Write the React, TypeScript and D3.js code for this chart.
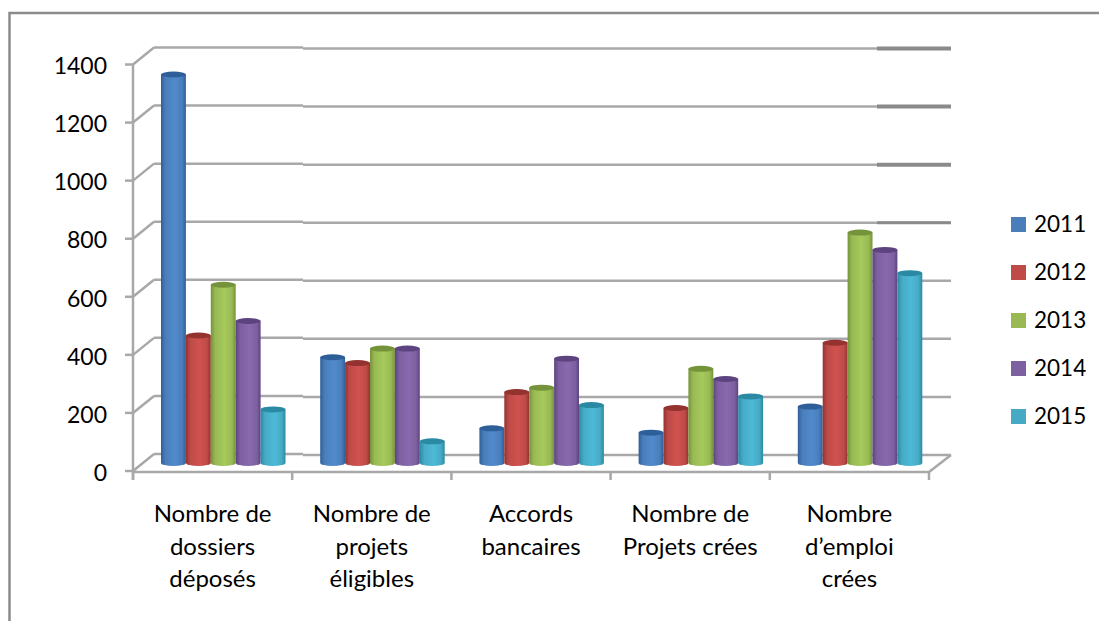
import React from 'react';
import * as d3 from 'd3';

const categories = ['Nombre de dossiers déposés', 'Nombre de projets éligibles', 'Accords bancaires', 'Nombre de Projets crées', 'Nombre d’emploi crées'];
const categoryLines = [['Nombre de', 'dossiers', 'déposés'], ['Nombre de', 'projets', 'éligibles'], ['Accords', 'bancaires'], ['Nombre de', 'Projets crées'], ['Nombre', 'd’emploi', 'crées']];
const years = ['2011', '2012', '2013', '2014', '2015'];
const v2011 = [1350, 375, 130, 115, 205];
const v2012 = [450, 355, 255, 200, 425];
const v2013 = [625, 405, 270, 335, 805];
const v2014 = [500, 405, 370, 300, 745];
const v2015 = [195, 85, 210, 240, 665];
const seriesValues = [v2011, v2012, v2013, v2014, v2015];
const colors = ['#4a7ebb', '#be4b48', '#98b954', '#7d60a0', '#46aac5'];
const dark = ['#2f5f98', '#94322f', '#75933a', '#5d437f', '#2a8aa4'];
const ticks = [0, 200, 400, 600, 800, 1000, 1200, 1400];
const FONT = 'Lato, Carlito, Calibri, sans-serif';
const GRID = '#a8a8a8';

export default function App() {
  const yFront = d3.scaleLinear().domain([0, 1400]).range([471, 64.5]);
  const yBack = d3.scaleLinear().domain([0, 1400]).range([454, 47.5]);
  const yBar = d3.scaleLinear().domain([0, 1400]).range([466, 60]);
  const x0 = d3.scaleBand<string>().domain(categories).range([133, 929]);
  const x1 = d3.scaleBand<string>().domain(years).range([28, 152.5]);
  const legendY = d3.scalePoint<string>().domain(years).range([224.5, 416.5]);
  const bw = x1.bandwidth();
  const ry = 3;
  return (
    <svg width={1099} height={621} style={{ position: 'absolute', left: 0, top: 0, background: '#fff' }}>
      <defs>
        {colors.map((c, i) => (
          <linearGradient key={c} id={`cyl${i}`} x1="0" x2="1" y1="0" y2="0">
            <stop offset="0" stopColor={dark[i]} />
            <stop offset="0.18" stopColor={c} />
            <stop offset="0.55" stopColor={d3.color(c)!.brighter(0.25).formatHex()} />
            <stop offset="0.85" stopColor={c} />
            <stop offset="1" stopColor={dark[i]} />
          </linearGradient>
        ))}
      </defs>
      <path d="M1099,13 H9.5 V621" fill="none" stroke="#8c8c8c" strokeWidth={2.5} />

      {ticks.map(t => (
        <g key={t}>
          <line x1={133} x2={154} y1={yFront(t)} y2={yBack(t)} stroke={GRID} strokeWidth={2.5} />
          <line x1={154} x2={303} y1={yBack(t)} y2={yBack(t)} stroke={GRID} strokeWidth={2.5} />
          <line x1={303} x2={951} y1={yBack(t) + 1} y2={yBack(t) + 1} stroke={GRID} strokeWidth={2.5} />
          {t >= 800 && (
            <line x1={877} x2={951} y1={yBack(t) + 1} y2={yBack(t) + 1} stroke="#8a8a8a" strokeWidth={t === 800 ? 3 : 4} />
          )}
          <line x1={125} x2={133} y1={yFront(t)} y2={yFront(t)} stroke={GRID} strokeWidth={2.5} />
          <text x={107} y={yFront(t) + 1.5} dy="0.36em" textAnchor="end" fontFamily={FONT} fontSize={23} fill="#000">{t}</text>
        </g>
      ))}
      <line x1={133} x2={133} y1={yFront(1400)} y2={480} stroke={GRID} strokeWidth={2.5} />
      <line x1={133} x2={929} y1={472} y2={472} stroke={GRID} strokeWidth={2.5} />
      <line x1={929} x2={951} y1={472} y2={455} stroke={GRID} strokeWidth={2.5} />
      {[...categories.map(c => x0(c)!), 929].map((x, i) => (
        <line key={i} x1={x} x2={x} y1={472} y2={480} stroke={GRID} strokeWidth={2.5} />
      ))}

      {categories.map((c, ci) => (
        <g key={c}>
          {years.map((yr, si) => {
            const v = seriesValues[si][ci];
            const x = x0(c)! + x1(yr)!;
            const top = yBar(v);
            const base = yBar(0) - ry;
            return (
              <g key={yr}>
                <path
                  d={`M${x},${top} V${base} A${bw / 2},${ry} 0 0 0 ${x + bw},${base} V${top} Z`}
                  fill={`url(#cyl${si})`}
                />
                <ellipse cx={x + bw / 2} cy={top} rx={bw / 2} ry={ry} fill={dark[si]} />
              </g>
            );
          })}
        </g>
      ))}

      {categoryLines.map((lines, i) => (
        <text key={i} textAnchor="middle" fontFamily={FONT} fontSize={24} fill="#000">
          {lines.map((l, j) => (
            <tspan key={j} x={x0(categories[i])! + x0.bandwidth() / 2} y={522 + j * 32.5}>{l}</tspan>
          ))}
        </text>
      ))}

      {years.map((yr, i) => (
        <g key={yr}>
          <rect x={1011} y={legendY(yr)! - 7.5} width={15} height={15} fill={colors[i]} />
          <text x={1034} y={legendY(yr)! - 1} dy="0.36em" fontFamily={FONT} fontSize={22.5} fill="#000">{yr}</text>
        </g>
      ))}
    </svg>
  );
}
